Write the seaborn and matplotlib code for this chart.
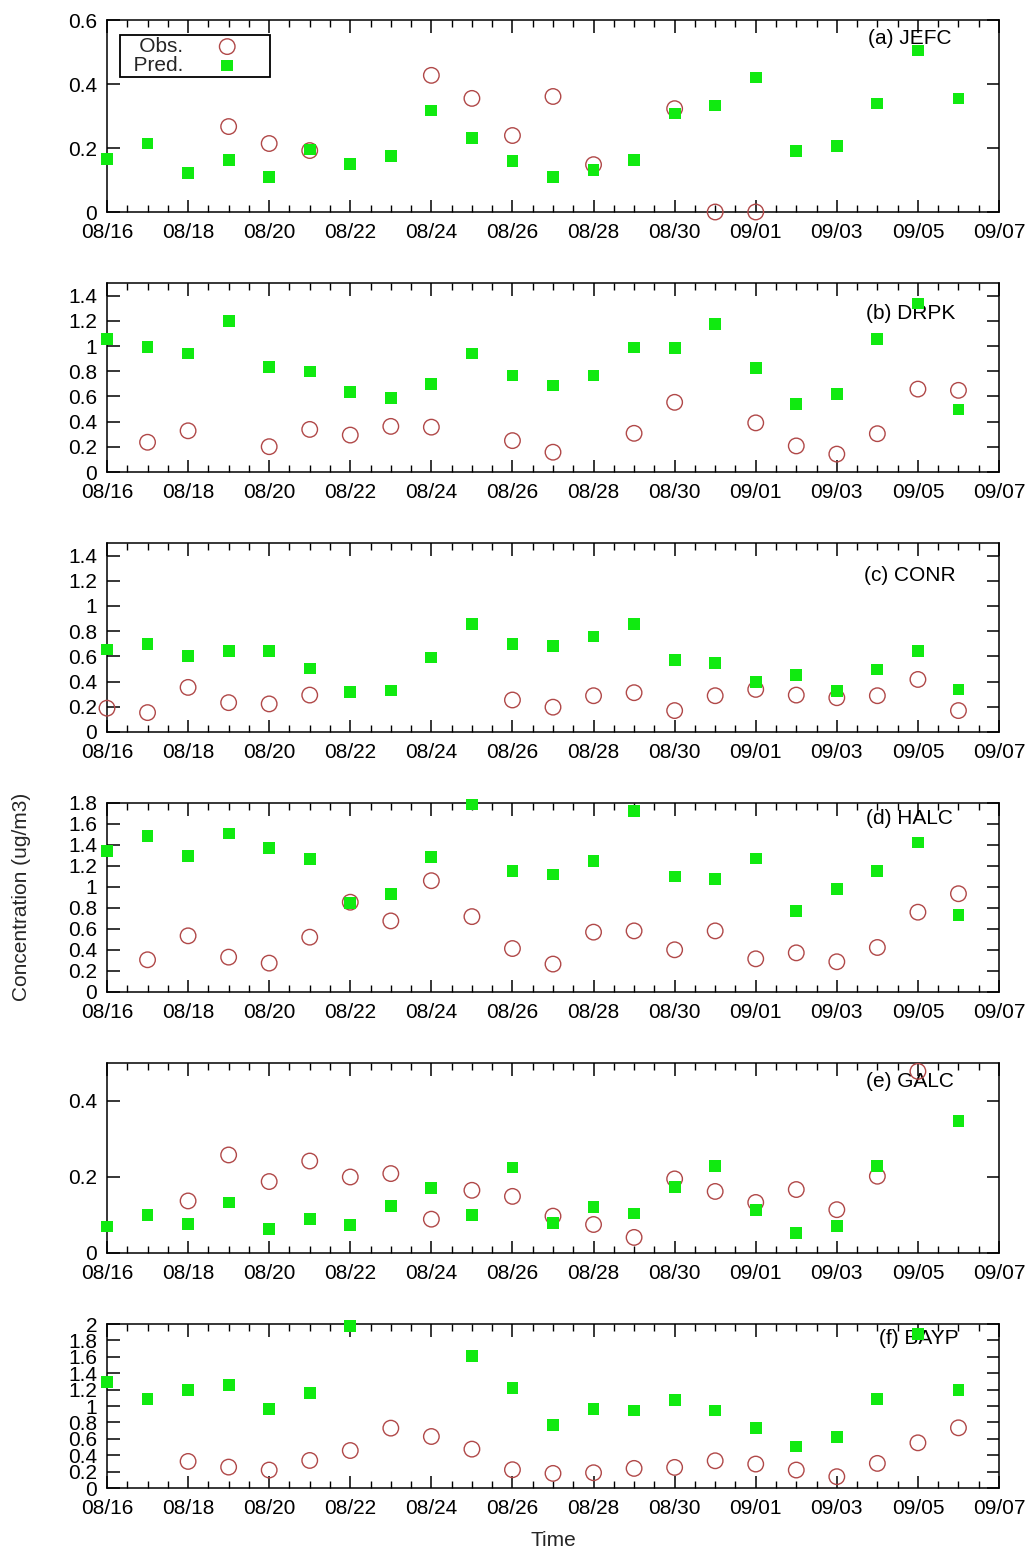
import numpy as np
import pandas as pd
import matplotlib
matplotlib.use("Agg")
import matplotlib.pyplot as plt
import seaborn as sns
from matplotlib.ticker import MultipleLocator, FixedLocator, FuncFormatter

nan = np.nan

# Sampling days (one value per day) and labelled x ticks
dates = ["08/16", "08/17", "08/18", "08/19", "08/20", "08/21", "08/22", "08/23",
         "08/24", "08/25", "08/26", "08/27", "08/28", "08/29", "08/30", "08/31",
         "09/01", "09/02", "09/03", "09/04", "09/05", "09/06"]
x_tick_labels = ["08/16", "08/18", "08/20", "08/22", "08/24", "08/26", "08/28",
                 "08/30", "09/01", "09/03", "09/05", "09/07"]

# Observed and predicted concentrations (ug/m3) per site
jefc_obs = [nan, nan, nan, 0.267, 0.214, 0.192, nan, nan, 0.427, 0.355, 0.239, 0.361,
            0.148, nan, 0.323, 0.0, 0.0, nan, nan, nan, nan, nan]
jefc_pred = [0.166, 0.214, 0.122, 0.163, 0.110, 0.195, 0.150, 0.176, 0.317, 0.232, 0.160,
             0.110, 0.132, 0.163, 0.308, 0.333, 0.420, 0.190, 0.207, 0.339, 0.505, 0.355]

drpk_obs = [nan, 0.236, 0.327, nan, 0.201, 0.338, 0.293, 0.362, 0.356, nan, 0.249, 0.157,
            nan, 0.307, 0.553, nan, 0.390, 0.207, 0.142, 0.304, 0.658, 0.648]
drpk_pred = [1.054, 0.994, 0.941, 1.198, 0.831, 0.797, 0.634, 0.587, 0.700, 0.941, 0.766,
             0.687, 0.766, 0.988, 0.983, 1.177, 0.826, 0.537, 0.616, 1.057, 1.337, 0.496]

conr_obs = [0.189, 0.154, 0.354, 0.233, 0.223, 0.293, nan, nan, nan, nan, 0.254, 0.197,
            0.288, 0.312, 0.170, 0.288, 0.338, 0.293, 0.272, 0.288, 0.417, 0.170]
conr_pred = [0.655, 0.700, 0.606, 0.642, 0.642, 0.504, 0.317, 0.330, 0.592, 0.858, 0.700,
             0.684, 0.758, 0.860, 0.574, 0.548, 0.396, 0.451, 0.327, 0.496, 0.642, 0.338]

halc_obs = [nan, 0.307, 0.535, 0.332, 0.275, 0.522, 0.855, 0.677, 1.060, 0.718, 0.414,
            0.266, 0.570, 0.582, 0.402, 0.582, 0.316, 0.373, 0.288, 0.424, 0.760, 0.936]
halc_pred = [1.342, 1.484, 1.297, 1.510, 1.370, 1.266, 0.845, 0.933, 1.288, 1.785, 1.152,
             1.120, 1.244, 1.725, 1.100, 1.076, 1.272, 0.769, 0.978, 1.152, 1.424, 0.737]

galc_obs = [nan, nan, 0.137, 0.258, 0.188, 0.242, 0.200, 0.209, 0.089, 0.165, 0.149,
            0.097, 0.075, 0.041, 0.195, 0.162, 0.133, 0.167, 0.114, 0.202, 0.478, nan]
galc_pred = [0.070, 0.101, 0.076, 0.133, 0.064, 0.089, 0.073, 0.123, 0.172, 0.099, 0.225,
             0.079, 0.122, 0.104, 0.174, 0.228, 0.114, 0.052, 0.072, 0.228, nan, 0.347]

bayp_obs = [nan, nan, 0.324, 0.255, 0.219, 0.336, 0.457, 0.730, 0.628, 0.474, 0.223,
            0.178, 0.186, 0.239, 0.251, 0.332, 0.292, 0.219, 0.138, 0.300, 0.551, 0.734]
bayp_pred = [1.290, 1.083, 1.192, 1.260, 0.965, 1.163, 1.978, nan, nan, 1.606, 1.220,
             0.766, 0.961, 0.944, 1.074, 0.944, 0.730, 0.506, 0.624, 1.083, 1.877, 1.196]

panel_titles = ["(a) JEFC", "(b) DRPK", "(c) CONR", "(d) HALC", "(e) GALC", "(f) BAYP"]
obs_series = [jefc_obs, drpk_obs, conr_obs, halc_obs, galc_obs, bayp_obs]
pred_series = [jefc_pred, drpk_pred, conr_pred, halc_pred, galc_pred, bayp_pred]
y_max = [0.6, 1.5, 1.5, 1.8, 0.5, 2.0]
y_ticks = [
    [0, 0.2, 0.4, 0.6],
    [0, 0.2, 0.4, 0.6, 0.8, 1.0, 1.2, 1.4],
    [0, 0.2, 0.4, 0.6, 0.8, 1.0, 1.2, 1.4],
    [0, 0.2, 0.4, 0.6, 0.8, 1.0, 1.2, 1.4, 1.6, 1.8],
    [0, 0.2, 0.4],
    [0, 0.2, 0.4, 0.6, 0.8, 1.0, 1.2, 1.4, 1.6, 1.8, 2.0],
]

sns.set_theme(style="ticks")
plt.rcParams["font.family"] = ["Liberation Sans", "DejaVu Sans"]
plt.rcParams["axes.linewidth"] = 1.1

OBS_COLOR = "#b04848"
PRED_COLOR = "#10ea10"
FS = 15

W, H = 1029, 1553
fig = plt.figure(figsize=(W / 100, H / 100), dpi=100)

# panel boxes in pixels: (top, bottom)
boxes = [(20, 212), (283, 472), (543, 732), (803, 992), (1063, 1253), (1324, 1488)]
left_px, right_px = 107, 999
title_pos = [(0.853, 0.906), (0.851, 0.84), (0.849, 0.83), (0.851, 0.92),
             (0.851, 0.905), (0.865, 0.91)]

fmt = FuncFormatter(lambda v, p: f"{v:g}")

for i, (top, bot) in enumerate(boxes):
    ax = fig.add_axes([left_px / W, 1 - bot / H, (right_px - left_px) / W, (bot - top) / H])
    df = pd.DataFrame({"date": dates, "day": np.arange(len(dates)),
                       "obs": obs_series[i], "pred": pred_series[i]})
    sns.scatterplot(data=df, x="day", y="obs", ax=ax, marker="o", s=125,
                    color=OBS_COLOR, facecolor="none", edgecolor=OBS_COLOR,
                    linewidth=1.0, clip_on=False, legend=False, zorder=3)
    sns.scatterplot(data=df, x="day", y="pred", ax=ax, marker="s", s=72,
                    color=PRED_COLOR, edgecolor="none", linewidth=0,
                    clip_on=False, legend=False, zorder=4)
    ax.set_xlim(0, len(dates))
    ax.set_ylim(0, y_max[i])
    ax.set_xticks(np.arange(0, len(dates) + 1, 2))
    ax.set_xticklabels(x_tick_labels)
    ax.xaxis.set_minor_locator(MultipleLocator(0.5))
    ax.yaxis.set_major_locator(FixedLocator(y_ticks[i]))
    ax.yaxis.set_major_formatter(fmt)
    ax.tick_params(axis="both", which="both", direction="in", top=True, right=True,
                   labelsize=FS, colors="black")
    ax.tick_params(axis="both", which="major", length=9, width=1.1)
    ax.tick_params(axis="x", which="minor", length=5, width=1.0)
    ax.tick_params(axis="x", which="major", pad=8)
    ax.tick_params(axis="y", which="major", pad=7)
    ax.set_xlabel("")
    ax.set_ylabel("")
    for sp in ax.spines.values():
        sp.set_visible(True)
        sp.set_color("black")
    ax.text(title_pos[i][0], title_pos[i][1], panel_titles[i], transform=ax.transAxes,
            ha="left", va="center", fontsize=FS, color="black", zorder=2)
    if i == 0:
        handles = ax.collections[:2]
        leg = ax.legend(handles, ["   Obs.", "  Pred."], loc="upper left",
                        bbox_to_anchor=(0.0146, 0.922), markerfirst=False,
                        frameon=True, fancybox=False, edgecolor="black", framealpha=1,
                        borderaxespad=0, fontsize=FS, scatterpoints=1,
                        handletextpad=0.15, labelspacing=0.0, borderpad=0.1,
                        handlelength=3.9)
        leg.get_frame().set_linewidth(1.3)
        leg.set_zorder(10)

fig.text(22 / W, 1 - 897 / H, "Concentration (ug/m3)", rotation=90, ha="center",
         va="center", fontsize=FS)
fig.text(553 / W, 1 - 1541 / H, "Time", ha="center", va="center", fontsize=FS)

fig.savefig("out.png", dpi=100, facecolor="white")
